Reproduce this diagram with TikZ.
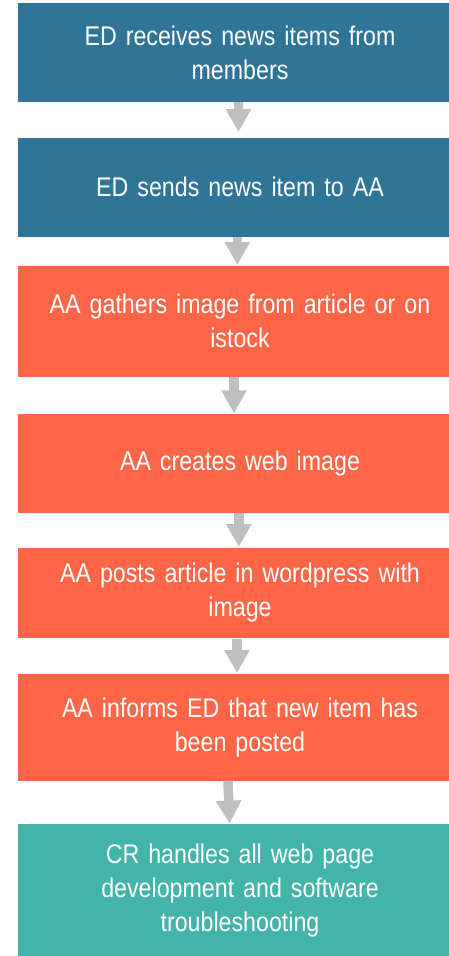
\documentclass[tikz,border=0pt]{standalone}
\usepackage{fontspec}
\setmainfont{Liberation Sans}[FakeStretch=0.86]
\usetikzlibrary{arrows.meta}

\definecolor{edblue}{HTML}{2E7598}
\definecolor{aaorange}{HTML}{FF6647}
\definecolor{crteal}{HTML}{42B4AA}
\definecolor{arrowgray}{HTML}{BFBFBF}

\begin{document}
\begin{tikzpicture}[x=1pt,y=-1pt,>={Triangle[width=24pt,length=23pt]},shorten >=0.5pt]
  \tikzset{taskbox/.style={rectangle,inner sep=0pt,minimum width=444pt,text width=420pt,
      align=center,text=white,font=\fontsize{27}{34}\selectfont}}
  \useasboundingbox (0,0) rectangle (449,956);
  \node[taskbox,fill=edblue,minimum height=99pt]     (receive) at (240, 52.5)  {ED receives news items from\\members};
  \node[taskbox,fill=edblue,minimum height=99pt]     (send)    at (240, 187.2) {ED sends news item to AA};
  \node[taskbox,fill=aaorange,minimum height=111pt]  (gather)  at (240, 321.2) {AA gathers image from article or on\\istock};
  \node[taskbox,fill=aaorange,minimum height=98.7pt] (create)  at (240, 463.3) {AA creates web image};
  \node[taskbox,fill=aaorange,minimum height=90.6pt] (post)    at (240, 593)   {AA posts article in wordpress with\\image};
  \node[taskbox,fill=aaorange,minimum height=107pt]  (inform)  at (240, 727.2) {AA informs ED that new item has\\been posted};
  \node[taskbox,fill=crteal,minimum height=132pt]    (handle)  at (240, 890.3) {CR handles all web page\\development and software\\troubleshooting};
  \path[->,color=arrowgray,line width=9.5pt]
    ([xshift=-1.5pt]receive.south) edge[shorten >=5.5pt] ([xshift=-1.5pt]send.north)
    ([xshift=-2.7pt]send.south)    edge ([xshift=-2.7pt]gather.north)
    ([xshift=-6pt]gather.south)    edge ([xshift=-6pt]create.north)
    ([xshift=-1.2pt]create.south)  edge ([xshift=-1.2pt]post.north)
    ([xshift=-3pt]post.south)      edge ([xshift=-3pt]inform.north)
    ([xshift=-12pt]inform.south)   edge ([xshift=-10.5pt]handle.north);
\end{tikzpicture}
\end{document}
